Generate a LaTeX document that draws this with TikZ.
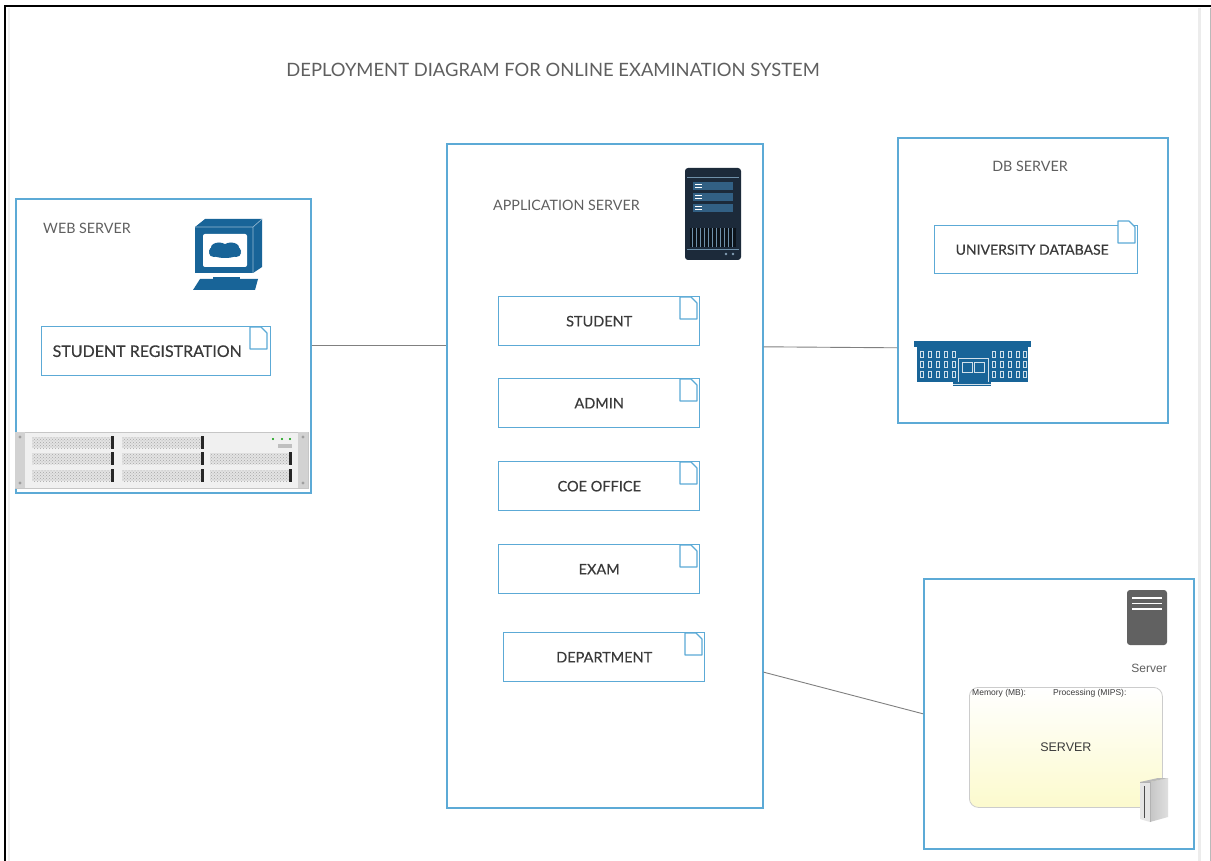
\documentclass[tikz,border=0pt]{standalone}
\usepackage{fontspec}
\setmainfont{Lato}
\newfontfamily\uifont{Liberation Sans}
\newfontfamily\artfont{Lato}[FakeBold=0.35]
\usetikzlibrary{patterns,calc}

\definecolor{boxblue}{RGB}{92,170,214}
\definecolor{iconblue}{RGB}{24,100,152}
\definecolor{navy}{RGB}{28,42,58}
\definecolor{navyline}{RGB}{50,96,132}
\definecolor{labelgray}{RGB}{95,95,95}
\definecolor{textgray}{RGB}{58,58,58}
\definecolor{wiregray}{RGB}{128,128,128}
\definecolor{paleyellow}{RGB}{252,250,205}

\tikzset{
  nodebox/.style={draw=boxblue, line width=1.6pt, anchor=north west, inner sep=0pt},
  artifact/.style={draw=boxblue, line width=1.4pt, anchor=north west, inner sep=0pt,
    minimum width=201pt, minimum height=49pt, text=textgray,
    font=\artfont\fontsize{14.5}{16}\selectfont},
  nodelabel/.style={anchor=west, text=labelgray, inner sep=0pt, font=\fontsize{14.3}{16}\selectfont},
  wire/.style={draw=wiregray, line width=0.9pt},
  docicon/.pic={
    \draw[boxblue, line width=1.1pt, line join=round, fill=white]
      (0,0) -- (11,0) -- (17,6) -- (17,22) -- (0,22) -- cycle;
  }
}

\begin{document}
\begin{tikzpicture}[x=1pt,y=-1pt]
\useasboundingbox (0,0) rectangle (1211,861);
\fill[white] (0,0) rectangle (1211,861);

% page frame
\draw[gray!12, line width=2pt] (9,8) -- (9,861);
\draw[gray!15, line width=3pt] (1199,8) -- (1199,861);
\draw[gray!55, line width=0.8pt] (1210,8) -- (1210,861);
\draw[black, line width=1.8pt] (5,861) -- (5,6) -- (1211,6);

% title
\node[text=labelgray, font=\fontsize{18.4}{20}\selectfont] (title) at (553,70)
  {DEPLOYMENT DIAGRAM FOR ONLINE EXAMINATION SYSTEM};

% ---------- web server ----------
\node[nodebox, minimum width=295pt, minimum height=294pt] (web) at (15,198) {};
\node[nodelabel] (weblbl) at (43,228) {WEB SERVER};

% desktop computer icon
\fill[iconblue] (195,227) rectangle (253,273);
\fill[iconblue] (195,227) -- (205,219) -- (262,219) -- (253,227) -- cycle;
\fill[iconblue] (253,227) -- (262,219) -- (262,267) -- (253,273) -- cycle;
\draw[white!55!iconblue, line width=0.6pt] (195,227) -- (253,227) -- (262,219) (253,227) -- (253,273);
\fill[white, rounded corners=2pt] (203,234) rectangle (247,267);
\fill[iconblue] (225,251) ellipse (16 and 7);
\fill[iconblue] (219,247.5) ellipse (8 and 5);
\fill[iconblue] (231,247.5) ellipse (8 and 5);
\fill[iconblue] (214,253) ellipse (5 and 4);
\fill[iconblue] (236,253) ellipse (5 and 4);
\fill[iconblue] (213,277) rectangle (240,280);
\fill[iconblue] (200,279) -- (258,279) -- (255,290) -- (193,290) -- cycle;

\node[artifact, minimum width=229pt, font=\artfont\fontsize{16}{18}\selectfont] (reg) at (41,326)
  {\hspace*{-18pt}STUDENT REGISTRATION};
\pic at (250,327) {docicon};

% rack server
\fill[gray!12] (15,432) rectangle (308,488);
\draw[gray!45, line width=0.8pt] (15,432) rectangle (308,488);
\fill[gray!35] (15,432) rectangle (25,488);
\fill[gray!35] (298,432) rectangle (308,488);
\foreach \sx in {20,303} {
  \fill[gray!75] (\sx,437) circle (1.6);
  \fill[gray!75] (\sx,483) circle (1.6);
}
\foreach \bx/\by in {32/437,122/437,32/453,122/453,210/453,32/470,122/470,210/470} {
  \fill[gray!22] (\bx,\by) rectangle ($(\bx,\by)+(79,11)$);
  \fill[pattern=crosshatch dots, pattern color=gray!70] (\bx,\by) rectangle ($(\bx,\by)+(79,11)$);
  \fill[black!85] ($(\bx,\by)+(79,-1)$) rectangle ($(\bx,\by)+(82,12)$);
}
\fill[green!60!black] (273,439) circle (1.2);
\fill[green!60!black] (282,439) circle (1.2);
\fill[green!60!black] (290,439) circle (1.2);
\fill[gray!50] (278,444) rectangle (292,448);

% ---------- application server ----------
\node[nodebox, minimum width=316pt, minimum height=664pt] (app) at (446,143) {};
\node[nodelabel] (applbl) at (493,205) {APPLICATION SERVER};

% tower server icon
\fill[navy, rounded corners=3pt] (685,168) rectangle (741,260);
\draw[navyline!70!white, line width=0.6pt] (687,177) -- (739,177);
\foreach \ry in {182,193,204} {
  \fill[navyline] (693,\ry) rectangle (733,\ry+8);
  \draw[white, line width=0.6pt] (695,\ry+2.5) -- (702,\ry+2.5);
  \draw[white, line width=0.6pt] (695,\ry+5.5) -- (702,\ry+5.5);
}
\fill[black!55!navy] (690,228) rectangle (736,247);
\foreach \vx in {692,696,...,734} {
  \draw[navyline!70, line width=0.5pt] (\vx,228) -- (\vx,247);
}
\draw[navyline!70!white, line width=0.6pt] (687,249) -- (739,249);
\fill[navyline!60!white] (726,254) circle (1.3);
\fill[navyline!60!white] (733,254) circle (1.3);

\node[artifact] (student) at (498,296) {STUDENT};
\pic at (680,297) {docicon};
\node[artifact] (admin) at (498,378) {ADMIN};
\pic at (680,379) {docicon};
\node[artifact] (coe) at (498,461) {COE OFFICE};
\pic at (680,462) {docicon};
\node[artifact] (exam) at (498,544) {EXAM};
\pic at (680,545) {docicon};
\node[artifact] (dept) at (503,632) {DEPARTMENT};
\pic at (685,633) {docicon};

% ---------- database server ----------
\node[nodebox, minimum width=270pt, minimum height=285pt] (db) at (897,137) {};
\node[nodelabel, anchor=center] (dblbl) at (1030,166) {DB SERVER};
\node[artifact, minimum width=203pt, minimum height=48pt, font=\artfont\fontsize{14}{16}\selectfont] (unidb) at (934,225)
  {\hspace*{-8pt}UNIVERSITY DATABASE};
\pic at (1118,221) {docicon};

% university building icon
\fill[iconblue] (914,341) rectangle (1031,347);
\fill[iconblue] (917,347) rectangle (1028,382);
\foreach \wy in {351,361,371} {
  \foreach \wx in {920,928,936,944,952,992,1000,1008,1016,1023} {
    \draw[white!80!iconblue, line width=0.5pt] (\wx,\wy) rectangle (\wx+3.5,\wy+6);
  }
}
\draw[white!80!iconblue, line width=0.6pt] (958,358) rectangle (988,382);
\draw[white!80!iconblue, line width=0.5pt] (962,362) rectangle (972,372);
\draw[white!80!iconblue, line width=0.5pt] (974,362) rectangle (984,372);
\fill[iconblue] (953,382) rectangle (991,386);
\draw[white!80!iconblue, line width=0.4pt] (953,384) -- (991,384);

% ---------- physical server node ----------
\node[nodebox, minimum width=270pt, minimum height=270pt] (srv) at (923,578) {};
\fill[black!62, rounded corners=3pt] (1127,590) rectangle (1167,645);
\foreach \ly in {598,603.5,609} {
  \draw[white, line width=1.6pt] (1132,\ly) -- (1162,\ly);
}
\node[anchor=east, text=labelgray, inner sep=0pt, font=\uifont\fontsize{12}{14}\selectfont]
  (srvlbl) at (1167,668) {Server};

\node[anchor=north west, draw=gray!40, line width=0.8pt, rounded corners=9pt,
  top color=white, bottom color=paleyellow, minimum width=193pt, minimum height=120pt,
  inner sep=0pt, text=textgray, font=\uifont\fontsize{12.5}{14}\selectfont] (device) at (969,687)
  {SERVER};
\node[anchor=west, inner sep=0pt, text=textgray, font=\uifont\fontsize{8.5}{10}\selectfont]
  (mem) at (972,693) {Memory (MB):};
\node[anchor=west, inner sep=0pt, text=textgray, font=\uifont\fontsize{8.5}{10}\selectfont]
  (proc) at (1053,693) {Processing (MIPS):};

% small tower computer
\fill[gray!20] (1140,782) -- (1150,782) -- (1150,822) -- (1140,819) -- cycle;
\shade[left color=gray!45, right color=gray!25] (1150,782) -- (1168,778) -- (1168,817) -- (1150,822) -- cycle;
\fill[gray!55] (1140,782) -- (1158,778) -- (1168,778) -- (1150,782) -- cycle;
\draw[black!70, line width=0.8pt] (1144,786) -- (1144,818);
\draw[gray!60, line width=0.4pt] (1140,782) -- (1150,782) -- (1150,822);

% ---------- communication paths ----------
\draw[wire] (web.east) -- (web.east -| app.west);
\draw[wire] ($(web.east -| app.east)+(0,1)$) -- ($(web.east -| db.west)+(0,2)$);
\draw[wire] ($(app.east)!0.59!(app.south east)$) -- (srv.west);
\end{tikzpicture}
\end{document}
